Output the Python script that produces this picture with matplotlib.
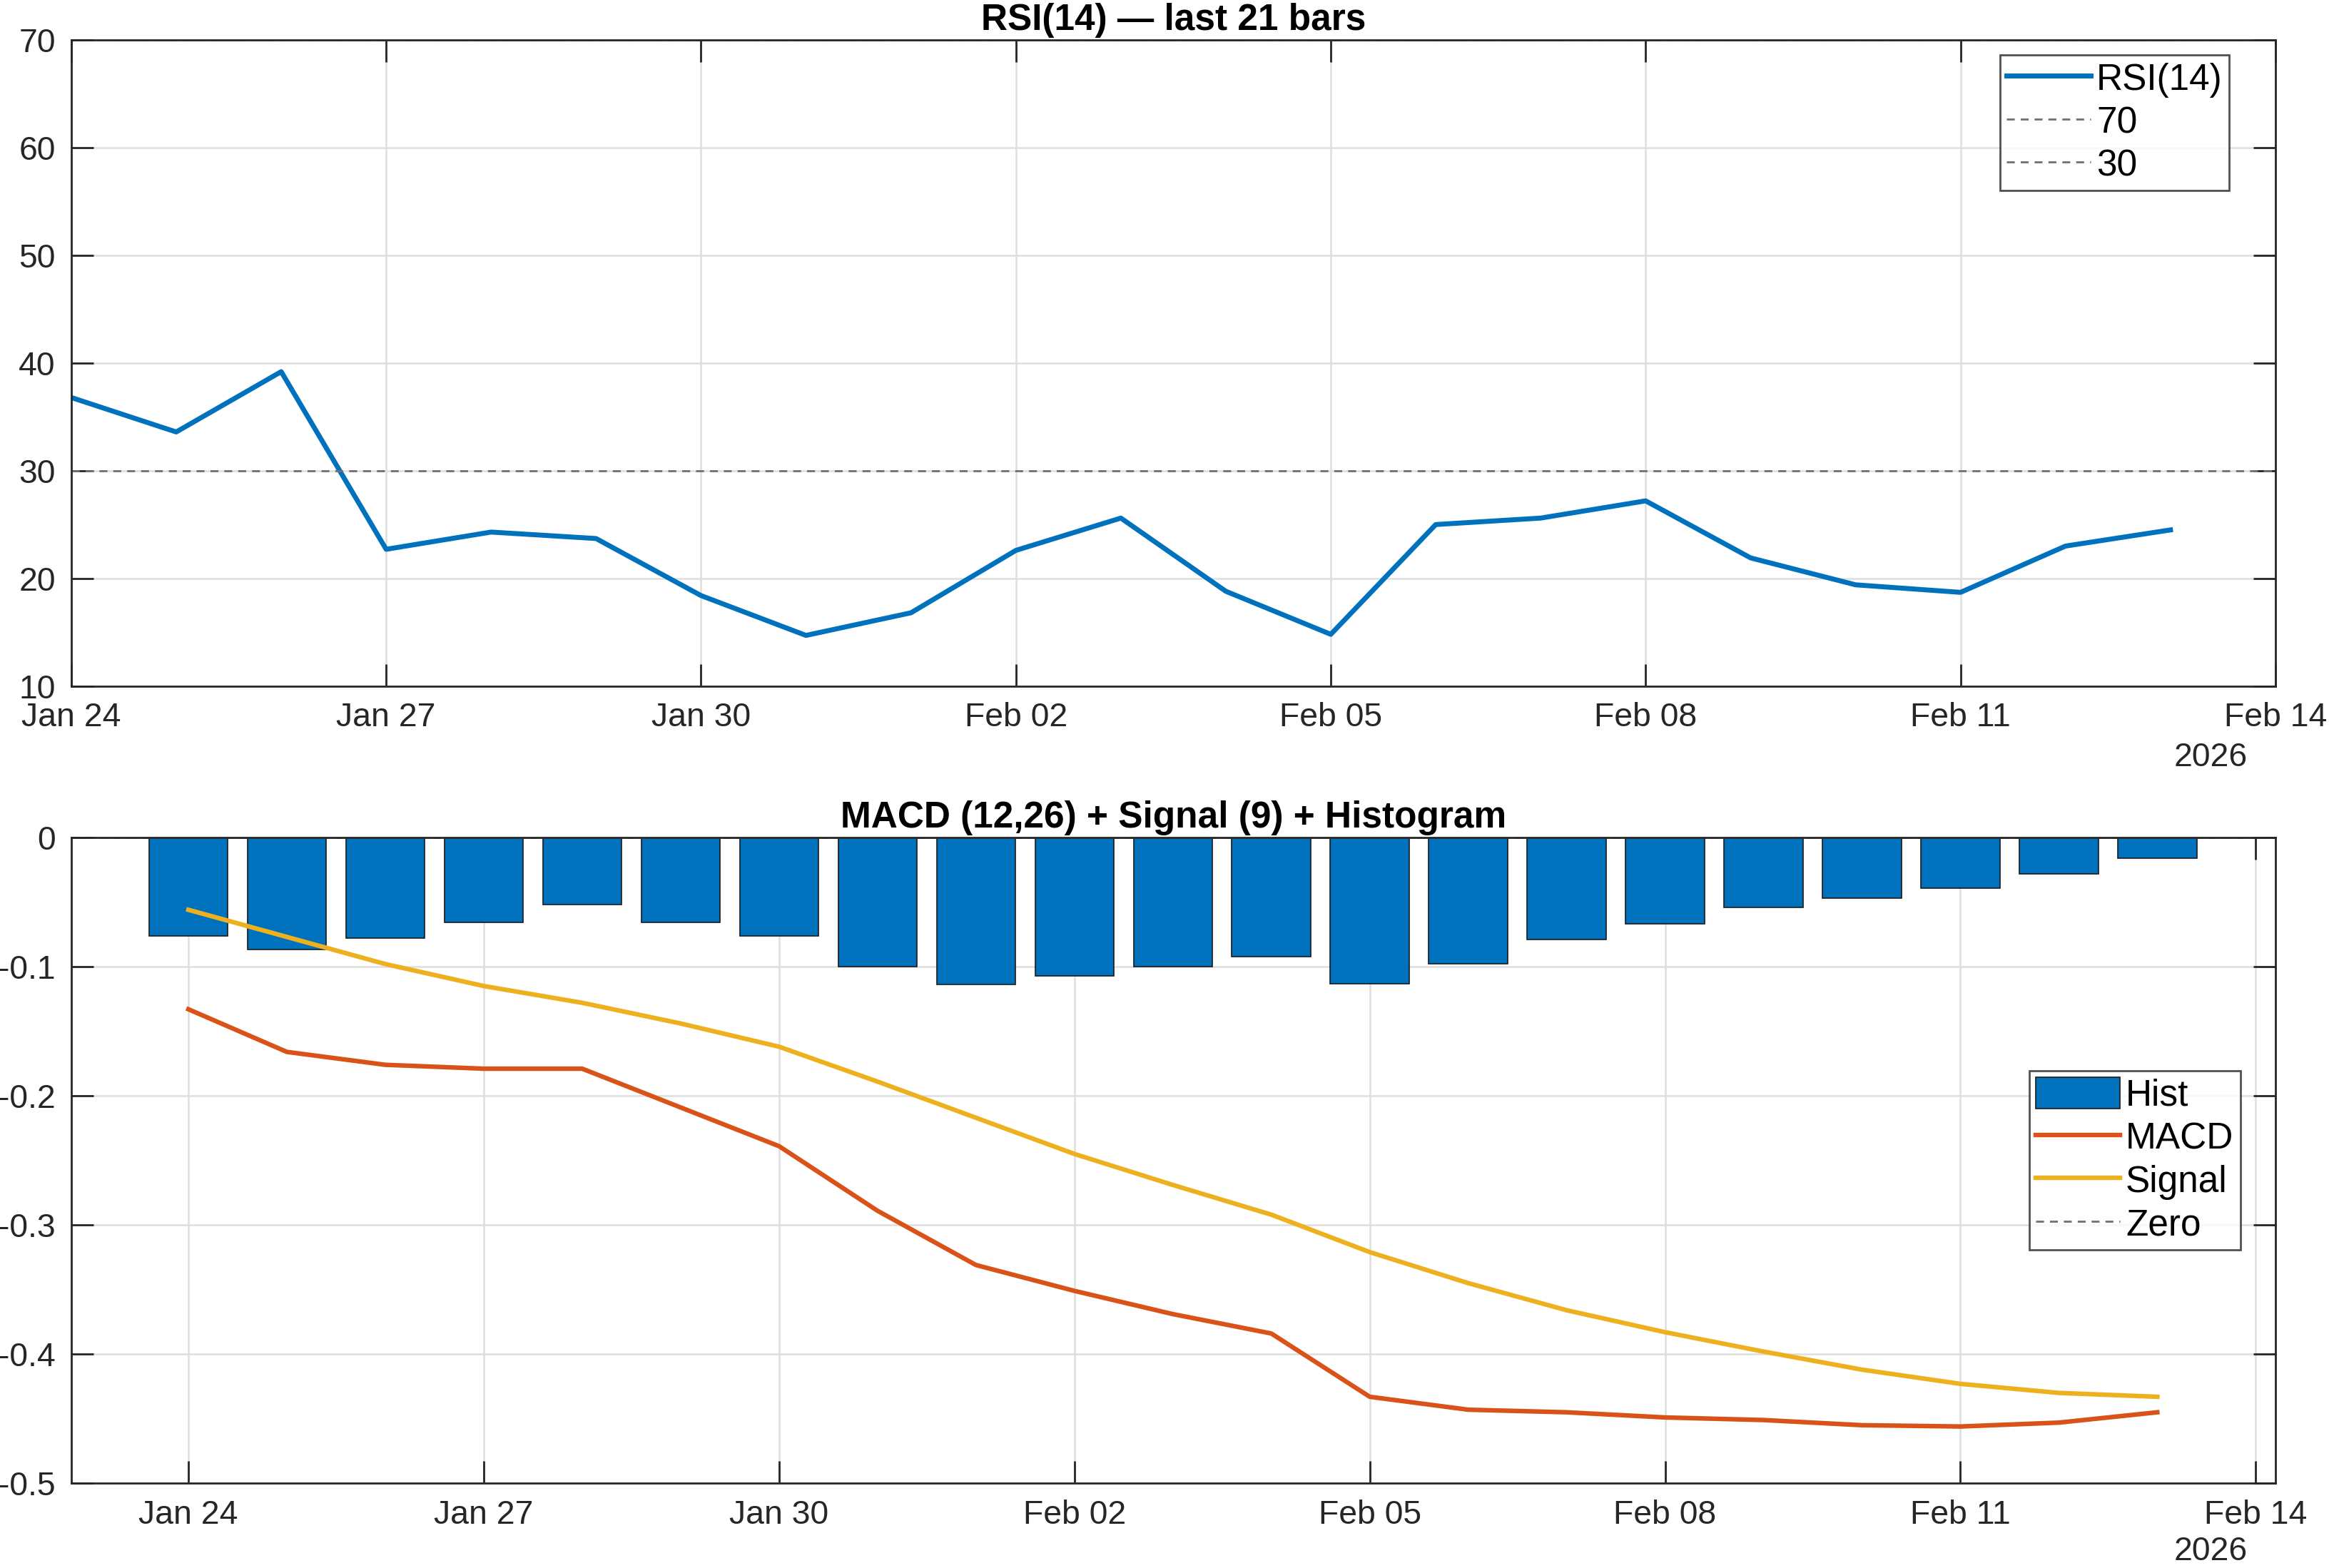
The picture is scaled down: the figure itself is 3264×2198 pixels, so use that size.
import numpy as np
import matplotlib
matplotlib.use("Agg")
import matplotlib.pyplot as plt
import matplotlib.dates as mdates

plt.rcParams['font.family'] = ['Liberation Sans', 'DejaVu Sans']
plt.rcParams['axes.unicode_minus'] = False

dates = np.arange(np.datetime64('2026-01-24'), np.datetime64('2026-02-14'))

rsi = [36.8, 33.6, 39.2, 22.7, 24.3, 23.7, 18.4, 14.7, 16.8, 22.6, 25.6,
       18.8, 14.8, 25.0, 25.6, 27.2, 21.9, 19.4, 18.7, 23.0, 24.5]

hist = [-0.076, -0.087, -0.078, -0.066, -0.052, -0.066, -0.076, -0.100,
        -0.114, -0.107, -0.100, -0.092, -0.113, -0.098, -0.079, -0.067,
        -0.054, -0.047, -0.039, -0.028, -0.016]

macd = [-0.133, -0.166, -0.176, -0.179, -0.179, -0.209, -0.239, -0.289,
        -0.331, -0.351, -0.369, -0.384, -0.433, -0.443, -0.445, -0.449,
        -0.451, -0.455, -0.456, -0.453, -0.445]

signal = [-0.056, -0.077, -0.098, -0.115, -0.128, -0.144, -0.162, -0.189,
          -0.217, -0.245, -0.269, -0.292, -0.321, -0.345, -0.366, -0.383,
          -0.398, -0.412, -0.423, -0.430, -0.433]

x = mdates.date2num(dates.astype('datetime64[D]').astype(object))

BLUE = '#0072BD'
ORANGE = '#D95319'
YELLOW = '#EDB120'
GRAY = '#707070'
AXC = '#262626'

fig = plt.figure(figsize=(16.32, 10.99), dpi=200)
ax1 = fig.add_axes([0.0306, 0.5625, 0.9464, 0.4119])
ax2 = fig.add_axes([0.0306, 0.054, 0.9464, 0.4119])


def style(ax):
    for s in ax.spines.values():
        s.set_color(AXC)
        s.set_linewidth(1.0)
    ax.tick_params(direction='in', length=11, width=1.0, color=AXC,
                   labelsize=16.7, labelcolor=AXC, top=True, right=True, pad=8)
    ax.grid(True, color='#dedede', linewidth=0.9)
    ax.set_axisbelow(True)
    ax.xaxis.set_major_formatter(mdates.DateFormatter('%b %d'))


def legend(ax, handles, labels, loc, anchor):
    leg = ax.legend(handles, labels, loc=loc, bbox_to_anchor=anchor,
                    borderaxespad=0, fontsize=18.5, frameon=True, fancybox=False,
                    edgecolor=AXC, handlelength=2.3, handleheight=0.92,
                    handletextpad=0.15, labelspacing=0.2, borderpad=0.18)
    leg.get_frame().set_linewidth(1.0)
    return leg


ticks = [x[0] + 3 * i for i in range(8)]

# RSI panel
l_rsi, = ax1.plot(x, rsi, color=BLUE, linewidth=2.5)
l_70 = ax1.axhline(70, color=GRAY, linestyle='--', linewidth=1.0, dashes=(4, 3))
l_30 = ax1.axhline(30, color=GRAY, linestyle='--', linewidth=1.0, dashes=(4, 3))
ax1.set_ylim(10, 70)
ax1.set_xlim(x[0], x[0] + 21)
style(ax1)
ax1.set_xticks(ticks)
ax1.set_title('RSI(14) — last 21 bars', fontsize=18.5, fontweight='bold',
              color='black', pad=5)
legend(ax1, [l_rsi, l_70, l_30], ['RSI(14)', '70', '30'],
       'upper right', (0.979, 0.977))

# MACD panel
bars = ax2.bar(x, hist, width=0.8, color=BLUE, edgecolor='#1a1a1a', linewidth=0.6)
l_macd, = ax2.plot(x, macd, color=ORANGE, linewidth=2.3)
l_sig, = ax2.plot(x, signal, color=YELLOW, linewidth=2.3)
l_zero = ax2.axhline(0, color=GRAY, linestyle='--', linewidth=1.0, dashes=(4, 3))
ax2.set_ylim(-0.5, 0)
ax2.set_xlim(x[0] - 1.19, x[0] + 21.2)
style(ax2)
ax2.set_xticks(ticks)
ax2.set_yticks([-0.5, -0.4, -0.3, -0.2, -0.1, 0])
ax2.set_yticklabels(['-0.5', '-0.4', '-0.3', '-0.2', '-0.1', '0'])
ax2.set_title('MACD (12,26) + Signal (9) + Histogram', fontsize=18.5,
              fontweight='bold', color='black', pad=5)
legend(ax2, [bars, l_macd, l_sig, l_zero], ['Hist', 'MACD', 'Signal', 'Zero'],
       'center right', (0.984, 0.5))

fig.text(0.965, 0.517, '2026', fontsize=16.7, color=AXC, ha='right', va='center')
fig.text(0.965, 0.0104, '2026', fontsize=16.7, color=AXC, ha='right', va='center')

fig.savefig('out.png', dpi=200, facecolor='white')
